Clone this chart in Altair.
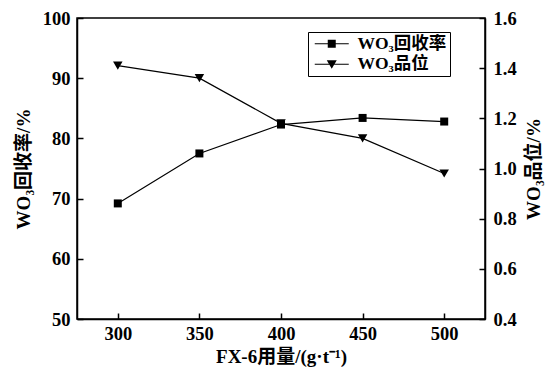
import altair as alt
import pandas as pd

dosage = [300, 350, 400, 450, 500]
recovery = [69.2, 77.5, 82.3, 83.4, 82.8]
grade = [1.41, 1.36, 1.18, 1.12, 0.98]
series = ["WO₃回收率", "WO₃品位"]

df_rec = pd.DataFrame({"dosage": dosage, "value": recovery, "series": series[0]})
df_gra = pd.DataFrame({"dosage": dosage, "value": grade, "series": series[1]})

FONT = "'Liberation Serif', 'Noto Sans CJK SC', serif"
W, H = 408, 301
xdom = [275, 525]
ydom_r = [50, 100]
ydom_g = [0.4, 1.6]
xticks = [300, 350, 400, 450, 500]

def xs(axis):
    return alt.X("dosage:Q", scale=alt.Scale(domain=xdom, nice=False, zero=False), axis=axis)

common_axis = dict(domainColor="black", domainWidth=1.5, tickColor="black", tickWidth=1.5,
                   labelFont=FONT, labelFontWeight="bold", labelColor="black", labelFontSize=18.5,
                   titleFont=FONT, titleFontWeight="bold", titleColor="black", titleFontSize=19,
                   grid=False)

x_main = alt.Axis(orient="bottom", values=xticks, tickSize=0, title="FX-6用量/(g·t⁻¹)",
                  labelPadding=5, titlePadding=5, **common_axis)
x_ticks_in = alt.Axis(orient="top", values=xticks, tickSize=6, offset=-H, labels=False, title=None,
                      domain=False, tickColor="black", tickWidth=1.5, grid=False)

y_rec_main = alt.Axis(orient="left", values=[50, 60, 70, 80, 90, 100], tickSize=0, title="WO₃回收率/%",
                      labelPadding=7, titlePadding=9, **common_axis)
y_rec_in = alt.Axis(orient="right", values=[50, 60, 70, 80, 90, 100], tickSize=6, offset=-W, labels=False,
                    title=None, domain=False, tickColor="black", tickWidth=1.5, grid=False)
y_gra_main = alt.Axis(orient="right", values=[0.4, 0.6, 0.8, 1.0, 1.2, 1.4, 1.6], format=".1f", tickSize=0,
                      title="WO₃品位/%", titleAngle=270, titleBaseline="top",
                      labelPadding=8, titlePadding=8, **common_axis)
y_gra_in = alt.Axis(orient="left", values=[0.4, 0.6, 0.8, 1.0, 1.2, 1.4, 1.6], tickSize=6, offset=-W, labels=False,
                    title=None, domain=False, tickColor="black", tickWidth=1.5, grid=False)

sc_r = alt.Scale(domain=ydom_r, nice=False, zero=False)
sc_g = alt.Scale(domain=ydom_g, nice=False, zero=False)

rec_line = alt.Chart(df_rec).mark_line(color="black", strokeWidth=1.2).encode(
    x=xs(x_main), y=alt.Y("value:Q", scale=sc_r, axis=y_rec_main))
rec_pts = alt.Chart(df_rec).mark_point(shape="square", filled=True, color="black", size=64, opacity=1).encode(
    x=xs(x_ticks_in), y=alt.Y("value:Q", scale=sc_r, axis=y_rec_in))
gra_line = alt.Chart(df_gra).mark_line(color="black", strokeWidth=1.2).encode(
    x=xs(None), y=alt.Y("value:Q", scale=sc_g, axis=y_gra_main))
gra_pts = alt.Chart(df_gra).mark_point(shape="triangle-down", filled=True, color="black", size=90, opacity=1).encode(
    x=xs(None), y=alt.Y("value:Q", scale=sc_g, axis=y_gra_in))

df_leg = pd.concat([df_rec, df_gra])
paths = ["M-3.4,-0.12H3.4V0.12H-3.4ZM-0.8,-0.8H0.8V0.8H-0.8Z",
         "M-3.4,-0.12H3.4V0.12H-3.4ZM-1,-0.8H1L0,0.9Z"]
leg = alt.Chart(df_leg).mark_point(filled=True, color="black", opacity=0, size=100).encode(
    x=xs(None), y=alt.Y("value:Q", scale=alt.Scale(domain=[0, 200]), axis=None),
    shape=alt.Shape("series:N", scale=alt.Scale(domain=series, range=paths),
                    legend=alt.Legend(title=None, orient="none", legendX=231, legendY=14,
                                      strokeColor="black", padding=3, symbolOffset=12, labelOffset=17,
                                      symbolSize=100, symbolOpacity=1, symbolFillColor="black",
                                      labelFont=FONT, labelFontWeight="bold", labelFontSize=17.5,
                                      labelColor="black", rowPadding=1.5)))

chart = alt.layer(rec_line, rec_pts, gra_line, gra_pts, leg).resolve_scale(
    x="independent", y="independent", shape="independent").resolve_axis(
    x="independent", y="independent").properties(
    width=W, height=H, autosize=alt.AutoSizeParams(type="none"),
    padding={"left": 69, "top": 10, "right": 62, "bottom": 49}, background="white"
).configure_view(stroke="black", strokeWidth=1.5)

chart.save("out.html", embed_options={"renderer": "svg", "actions": False})
